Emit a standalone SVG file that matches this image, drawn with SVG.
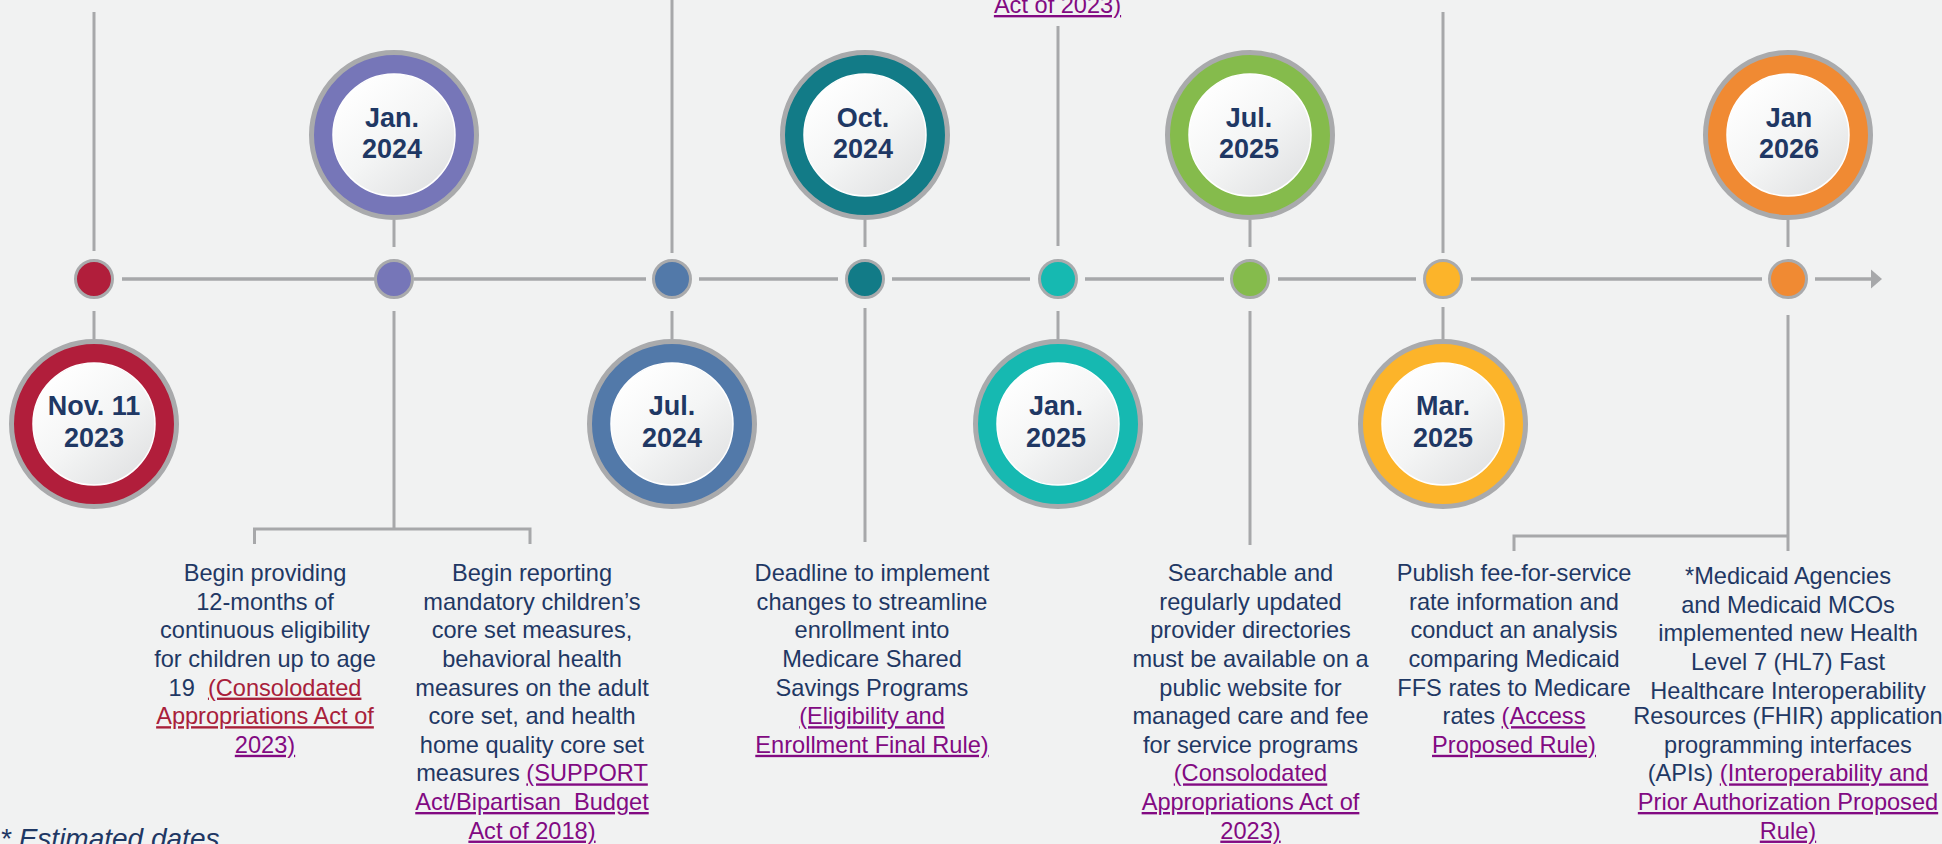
<svg xmlns="http://www.w3.org/2000/svg" width="1942" height="844" viewBox="0 0 1942 844">
<defs>
<linearGradient id="btn" x1="0.15" y1="0.1" x2="0.85" y2="0.95">
<stop offset="0" stop-color="#FFFFFF"/>
<stop offset="0.5" stop-color="#F4F5F5"/>
<stop offset="1" stop-color="#E1E2E3"/>
</linearGradient>
<marker id="arrow" markerWidth="12" markerHeight="20" refX="0" refY="10" orient="auto" markerUnits="userSpaceOnUse" viewBox="0 0 12 20">
<path d="M0,0.5 L11,10 L0,19.5 Z" fill="#A7A8AA"/>
</marker>
</defs>
<style>
.ln{stroke:#A7A8AA;stroke-width:3;fill:none}
.tl{stroke:#A7A8AA;stroke-width:3.5;fill:none}
.rim{stroke:#A9AAAC;stroke-width:5}
.dot{stroke:#A9AAAC;stroke-width:3}
.inner{fill:url(#btn);stroke:#FFFFFF;stroke-width:1.5}
.date{font-family:"Liberation Sans",Arial,sans-serif;font-weight:bold;font-size:27px;fill:#1F3864;text-anchor:middle}
.desc{font-family:"Liberation Sans",Arial,sans-serif;font-size:23.6px;fill:#1F3864;text-anchor:middle;white-space:pre}
.lk{fill:#820A82;text-decoration:underline;text-decoration-color:#B0213F}
.lkr{fill:#A8203A;text-decoration:underline}
.note{font-family:"Liberation Sans",Arial,sans-serif;font-style:italic;font-size:28px;fill:#1F3864}
</style>
<rect x="0" y="0" width="1942" height="844" fill="#F1F2F2"/>

<g id="connectors">
<path class="tl" d="M122,279 H375 M414,279 H646 M699,279 H838 M892,279 H1030 M1085,279 H1224 M1278,279 H1416 M1471,279 H1762"/>
<line class="tl" x1="1815" y1="279" x2="1871" y2="279" marker-end="url(#arrow)"/>
<path class="ln" d="M394,220 V247 M865,220 V247 M1250,220 V247 M1788,220 V247"/>
<path class="ln" d="M94,311 V339 M672,311 V339 M1058,311 V339 M1443,307 V339"/>
<path class="ln" d="M94,12 V251 M672,0 V253 M1058,26 V246 M1443,12 V253"/>
<path class="ln" d="M394,311 V529 M254.5,544 V529 H530 V544"/>
<path class="ln" d="M865,308 V542 M1250,311 V545"/>
<path class="ln" d="M1788,315 V551 M1514,551 V536 H1788"/>
</g>

<g id="evt-nov2023">
<circle class="dot" cx="94" cy="279" r="18.5" fill="#B11E3B"/>
<circle class="rim" cx="94" cy="424" r="82.5" fill="#B11E3B"/>
<circle class="inner" cx="94" cy="424" r="61"/>
<text class="date" x="94" y="415">Nov. 11</text>
<text class="date" x="94" y="447">2023</text>
</g>
<g id="evt-jan2024">
<circle class="dot" cx="394" cy="279" r="18.5" fill="#7676B8"/>
<circle class="rim" cx="394" cy="135" r="82.5" fill="#7676B8"/>
<circle class="inner" cx="394" cy="135" r="61"/>
<text class="date" x="392" y="127">Jan.</text>
<text class="date" x="392" y="158">2024</text>
</g>
<g id="evt-jul2024">
<circle class="dot" cx="672" cy="279" r="18.5" fill="#5279A9"/>
<circle class="rim" cx="672" cy="424" r="82.5" fill="#5279A9"/>
<circle class="inner" cx="672" cy="424" r="61"/>
<text class="date" x="672" y="415">Jul.</text>
<text class="date" x="672" y="447">2024</text>
</g>
<g id="evt-oct2024">
<circle class="dot" cx="865" cy="279" r="18.5" fill="#127B87"/>
<circle class="rim" cx="865" cy="135" r="82.5" fill="#127B87"/>
<circle class="inner" cx="865" cy="135" r="61"/>
<text class="date" x="863" y="127">Oct.</text>
<text class="date" x="863" y="158">2024</text>
</g>
<g id="evt-jan2025">
<circle class="dot" cx="1058" cy="279" r="18.5" fill="#16B9B1"/>
<circle class="rim" cx="1058" cy="424" r="82.5" fill="#16B9B1"/>
<circle class="inner" cx="1058" cy="424" r="61"/>
<text class="date" x="1056" y="415">Jan.</text>
<text class="date" x="1056" y="447">2025</text>
</g>
<g id="evt-jul2025">
<circle class="dot" cx="1250" cy="279" r="18.5" fill="#85BB4C"/>
<circle class="rim" cx="1250" cy="135" r="82.5" fill="#85BB4C"/>
<circle class="inner" cx="1250" cy="135" r="61"/>
<text class="date" x="1249" y="127">Jul.</text>
<text class="date" x="1249" y="158">2025</text>
</g>
<g id="evt-mar2025">
<circle class="dot" cx="1443" cy="279" r="18.5" fill="#FCB42A"/>
<circle class="rim" cx="1443" cy="424" r="82.5" fill="#FCB42A"/>
<circle class="inner" cx="1443" cy="424" r="61"/>
<text class="date" x="1443" y="415">Mar.</text>
<text class="date" x="1443" y="447">2025</text>
</g>
<g id="evt-jan2026">
<circle class="dot" cx="1788" cy="279" r="18.5" fill="#F08A33"/>
<circle class="rim" cx="1788" cy="135" r="82.5" fill="#F08A33"/>
<circle class="inner" cx="1788" cy="135" r="61"/>
<text class="date" x="1789" y="127">Jan</text>
<text class="date" x="1789" y="158">2026</text>
</g>

<g id="desc-top">
<text class="desc" x="1057.5" y="13"><tspan class="lk">Act of 2023)</tspan></text>
</g>

<g id="desc-continuous-eligibility">
<text class="desc" x="265" y="581.2">Begin providing</text>
<text class="desc" x="265" y="609.8">12-months of</text>
<text class="desc" x="265" y="638.4">continuous eligibility</text>
<text class="desc" x="265" y="667">for children up to age</text>
<text class="desc" x="265" y="695.6">19  <tspan class="lkr">(Consolodated</tspan></text>
<text class="desc" x="265" y="724.2"><tspan class="lkr">Appropriations Act of</tspan></text>
<text class="desc" x="265" y="752.8"><tspan class="lk">2023)</tspan></text>
</g>

<g id="desc-core-set">
<text class="desc" x="532" y="581.2">Begin reporting</text>
<text class="desc" x="532" y="609.8">mandatory children’s</text>
<text class="desc" x="532" y="638.4">core set measures,</text>
<text class="desc" x="532" y="667">behavioral health</text>
<text class="desc" x="532" y="695.6">measures on the adult</text>
<text class="desc" x="532" y="724.2">core set, and health</text>
<text class="desc" x="532" y="752.8">home quality core set</text>
<text class="desc" x="532" y="781.4">measures <tspan class="lk">(SUPPORT</tspan></text>
<text class="desc" x="532" y="810"><tspan class="lk">Act/Bipartisan  Budget</tspan></text>
<text class="desc" x="532" y="838.6"><tspan class="lk">Act of 2018)</tspan></text>
</g>

<g id="desc-streamline">
<text class="desc" x="872" y="581.2">Deadline to implement</text>
<text class="desc" x="872" y="609.8">changes to streamline</text>
<text class="desc" x="872" y="638.4">enrollment into</text>
<text class="desc" x="872" y="667">Medicare Shared</text>
<text class="desc" x="872" y="695.6">Savings Programs</text>
<text class="desc" x="872" y="724.2"><tspan class="lk">(Eligibility and</tspan></text>
<text class="desc" x="872" y="752.8"><tspan class="lk">Enrollment Final Rule)</tspan></text>
</g>

<g id="desc-directories">
<text class="desc" x="1250.5" y="581.2">Searchable and</text>
<text class="desc" x="1250.5" y="609.8">regularly updated</text>
<text class="desc" x="1250.5" y="638.4">provider directories</text>
<text class="desc" x="1250.5" y="667">must be available on a</text>
<text class="desc" x="1250.5" y="695.6">public website for</text>
<text class="desc" x="1250.5" y="724.2">managed care and fee</text>
<text class="desc" x="1250.5" y="752.8">for service programs</text>
<text class="desc" x="1250.5" y="781.4"><tspan class="lk">(Consolodated</tspan></text>
<text class="desc" x="1250.5" y="810"><tspan class="lk">Appropriations Act of</tspan></text>
<text class="desc" x="1250.5" y="838.6"><tspan class="lk">2023)</tspan></text>
</g>

<g id="desc-ffs-rates">
<text class="desc" x="1514" y="581.2">Publish fee-for-service</text>
<text class="desc" x="1514" y="609.8">rate information and</text>
<text class="desc" x="1514" y="638.4">conduct an analysis</text>
<text class="desc" x="1514" y="667">comparing Medicaid</text>
<text class="desc" x="1514" y="695.6">FFS rates to Medicare</text>
<text class="desc" x="1514" y="724.2">rates <tspan class="lk">(Access</tspan></text>
<text class="desc" x="1514" y="752.8"><tspan class="lk">Proposed Rule)</tspan></text>
</g>

<g id="desc-fhir">
<text class="desc" x="1788" y="584.2">*Medicaid Agencies</text>
<text class="desc" x="1788" y="612.8">and Medicaid MCOs</text>
<text class="desc" x="1788" y="641.4">implemented new Health</text>
<text class="desc" x="1788" y="670">Level 7 (HL7) Fast</text>
<text class="desc" x="1788" y="698.6">Healthcare Interoperability</text>
<text class="desc" x="1788" y="724.2">Resources (FHIR) application</text>
<text class="desc" x="1788" y="752.8">programming interfaces</text>
<text class="desc" x="1788" y="781.4">(APIs) <tspan class="lk">(Interoperability and</tspan></text>
<text class="desc" x="1788" y="810"><tspan class="lk">Prior Authorization Proposed</tspan></text>
<text class="desc" x="1788" y="838.6"><tspan class="lk">Rule)</tspan></text>
</g>

<g id="note">
<text class="note" x="0" y="848">* Estimated dates</text>
</g>
</svg>
